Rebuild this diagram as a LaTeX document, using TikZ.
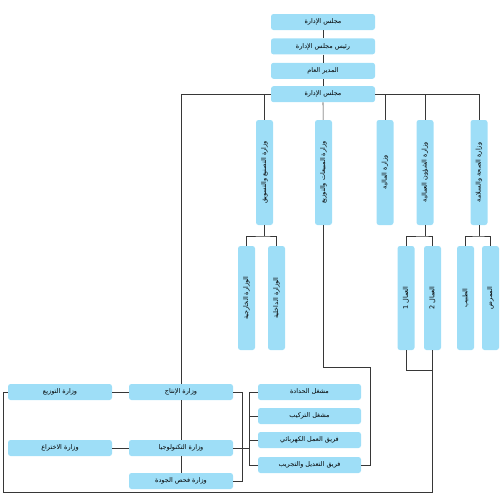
\documentclass[tikz,border=0pt]{standalone}
\usepackage{fontspec}
\usepackage{graphicx}
\newfontfamily\arabicfont[Script=Arabic]{DejaVu Sans}
\TeXXeTstate=1
\usepackage{tikz}
\usetikzlibrary{positioning}

\definecolor{boxblue}{RGB}{158,222,247}
\definecolor{linegray}{RGB}{55,55,55}

\newcommand{\artext}[1]{\beginR #1\endR}
\newcommand{\vartext}[1]{\rotatebox{90}{\beginR #1\endR}}

\begin{document}
\begin{tikzpicture}[
        x=1pt, y=-1pt,
        node distance=8pt,
        orgbox/.style={
            rectangle,
            rounded corners=2.5pt,
            fill=boxblue,
            draw=none,
            inner sep=1pt,
            font=\arabicfont\fontsize{6.5}{7.5}\selectfont
        },
        hbox/.style={orgbox, minimum width=104pt, minimum height=16pt},
        vbox/.style={orgbox, minimum width=17pt, minimum height=105pt},
        link/.style={draw=linegray, line width=0.65pt}
    ]
    \useasboundingbox (0,0) rectangle (500,493);

    % --- Top column ---
    \node[hbox] (board) at (323,22) {\artext{مجلس الإدارة}};
    \node[hbox, below=of board] (chair) {\artext{رئيس مجلس الإدارة}};
    \node[hbox, below=of chair] (gm) {\artext{المدير العام}};
    \node[hbox, below=7pt of gm] (council) {\artext{مجلس الإدارة}};

    % --- Ministries ---
    \node[vbox] (manuf) at (264.5,172.5) {\vartext{وزارة التصنيع والتسويق}};
    \node[vbox] (sales) at (323.5,172.5) {\vartext{وزارة المبيعات والتوزيع}};
    \node[vbox] (finance) at (385,172.5) {\vartext{وزارة المالية}};
    \node[vbox] (labour) at (425,172.5) {\vartext{وزارة الشؤون العمالية}};
    \node[vbox] (health) at (479,172.5) {\vartext{وزارة الصحة والسلامة}};

    \node[vbox, minimum height=104pt] (foreign) at (246.5,298) {\vartext{الوزارة الخارجية}};
    \node[vbox, minimum height=104pt] (interior) at (276.5,298) {\vartext{الوزارة الداخلية}};
    \node[vbox, minimum height=104pt] (worker1) at (406,298) {\vartext{العمال 1}};
    \node[vbox, minimum height=104pt] (worker2) at (432.5,298) {\vartext{العمال 2}};
    \node[vbox, minimum height=104pt] (doctor) at (465.5,298) {\vartext{الطبيب}};
    \node[vbox, minimum height=104pt] (nurse) at (490.5,298) {\vartext{الممرض}};

    % --- Lower part ---
    \node[hbox] (prod) at (181,392) {\artext{وزارة الإنتاج}};
    \node[hbox] (dist) at (60,392) {\artext{وزارة التوزيع}};
    \node[hbox] (tech) at (181,448) {\artext{وزارة التكنولوجيا}};
    \node[hbox] (invent) at (60,448) {\artext{وزارة الاختراع}};
    \node[hbox] (quality) at (181,481) {\artext{وزارة فحص الجودة}};

    \node[hbox, minimum width=103pt] (smith) at (309.5,392) {\artext{مشغل الحدادة}};
    \node[hbox, minimum width=103pt] (fitting) at (309.5,416) {\artext{مشغل التركيب}};
    \node[hbox, minimum width=103pt] (electric) at (309.5,440) {\artext{فريق العمل الكهربائي}};
    \node[hbox, minimum width=103pt] (testing) at (309.5,465) {\artext{فريق التعديل والتجريب}};

    % --- Helper points ---
    \coordinate (forkA) at (264.5,236);
    \coordinate (forkB) at (425,236);
    \coordinate (forkC) at (479,236);
    \coordinate (joinD) at (432.5,370);
    \coordinate (baseR) at (432.5,492);
    \coordinate (baseL) at (3,492);
    \coordinate (sideL) at (3,392);
    \coordinate (salesBend) at (370,367);
    \coordinate (brA) at (242,392);
    \coordinate (brB) at (249,392);

    % --- Connectors ---
    \draw[link] (board) -- (chair);
    \draw[link] (chair) -- (gm);
    \draw[link] (gm) -- (council);
    \draw[link] (council) -| (prod);
    \draw[link] (council) -| (health);
    \draw[link] (council) -- (sales);
    \draw[link] (manuf) -- (manuf |- council.center);
    \draw[link] (finance) -- (finance |- council.center);
    \draw[link] (labour) -- (labour |- council.center);

    \draw[link] (manuf) -- (forkA);
    \draw[link] (foreign) |- (forkA) -| (interior);
    \draw[link] (labour) -- (forkB);
    \draw[link] (worker1) |- (forkB) -| (worker2);
    \draw[link] (health) -- (forkC);
    \draw[link] (doctor) |- (forkC) -| (nurse);

    \draw[link] (worker1) |- (joinD);
    \draw[link] (worker2) -- (baseR) -- (baseL) -- (sideL) -- (dist);

    \draw[link] (sales) |- (salesBend) |- (testing);

    \draw[link] (prod) -- (dist);
    \draw[link] (tech) -- (invent);
    \draw[link] (prod) -- (tech);
    \draw[link] (tech) -- (quality);
    \draw[link] (prod) -- (brA) |- (quality);
    \draw[link] (smith) -- (brB) |- (testing);
    \draw[link] (fitting) -- (fitting -| brB);
    \draw[link] (electric) -- (electric -| brB);
    \draw[link] (tech) -- (tech -| brB);

\end{tikzpicture}
\end{document}
